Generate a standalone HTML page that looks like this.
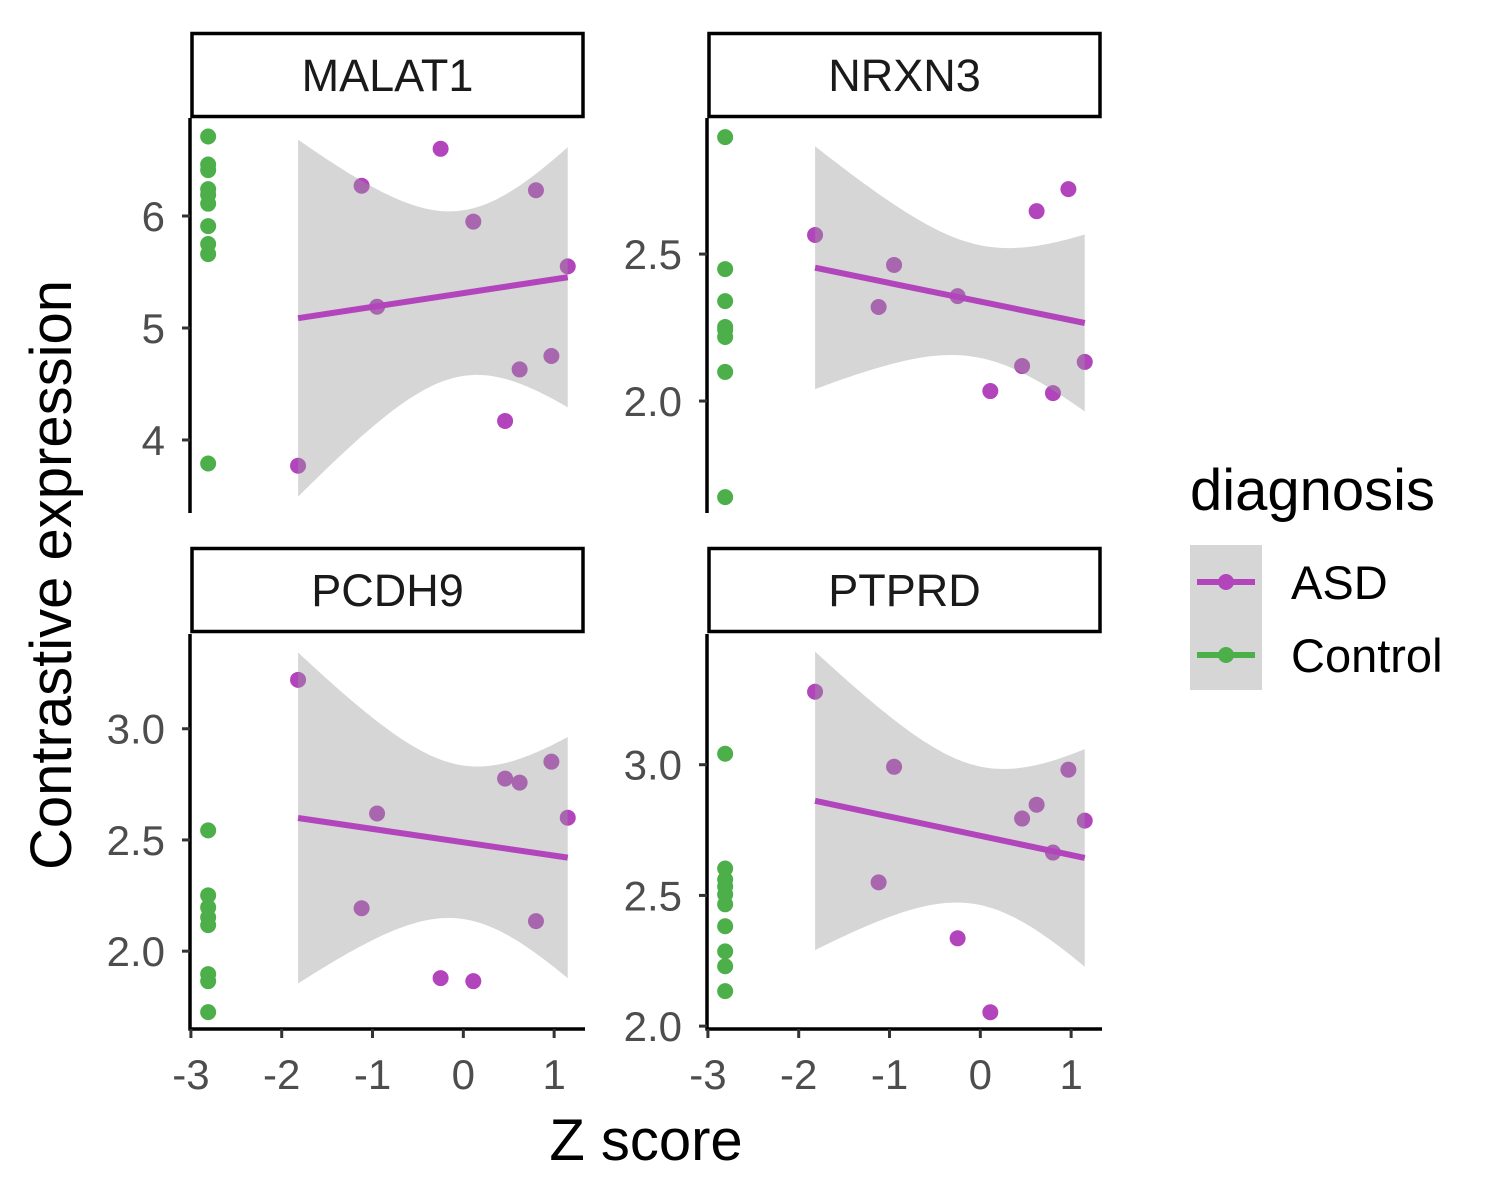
<!DOCTYPE html>
<html><head><meta charset="utf-8"><style>
html,body{margin:0;padding:0;background:#fff}
svg{display:block;font-family:"Liberation Sans",Arial,sans-serif}
</style></head><body>
<svg id="c" width="1500" height="1200" viewBox="0 0 1500 1200"></svg>
<script>
const panelNames = ["MALAT1","NRXN3","PCDH9","PTPRD"];
const asdZ = [-1.82,-1.12,-0.95,-0.25,0.11,0.46,0.62,0.80,0.97,1.15];
const controlZ = -2.81;
const malatASD = [3.77,6.27,5.19,6.60,5.95,4.17,4.63,6.23,4.75,5.55];
const malatCtrl = [6.71,6.46,6.41,6.24,6.19,6.11,5.91,5.75,5.66,3.79];
const nrxnASD = [2.565,2.32,2.463,2.357,2.034,2.119,2.646,2.027,2.721,2.133];
const nrxnCtrl = [2.898,2.449,2.34,2.252,2.242,2.218,2.099,1.673];
const pcdhASD = [3.22,2.193,2.619,1.879,1.865,2.776,2.758,2.135,2.852,2.60];
const pcdhCtrl = [2.543,2.251,2.197,2.152,2.117,1.897,1.865,1.726];
const ptprdASD = [3.279,2.55,2.992,2.336,2.053,2.794,2.847,2.664,2.981,2.786];
const ptprdCtrl = [3.042,2.603,2.561,2.534,2.504,2.466,2.382,2.286,2.229,2.134];
const xTicks = [-3,-2,-1,0,1];
const yTicksMalat = [4,5,6];
const yTicksNrxn = [2.0,2.5];
const yTicksPcdh = [2.0,2.5,3.0];
const yTicksPtprd = [2.0,2.5,3.0];

const NS="http://www.w3.org/2000/svg";
const svg=document.getElementById('c');
function mk(tag,attrs,parent,text){const e=document.createElementNS(NS,tag);for(const k in attrs)e.setAttribute(k,attrs[k]);if(text!==undefined)e.textContent=text;(parent||svg).appendChild(e);return e;}

const panels=[
 {name:panelNames[0],asd:malatASD,ctrl:malatCtrl,ticks:yTicksMalat,dom:[3.348,6.875],x0:190,top:118,strip:32,xaxis:false,lbl:v=>String(v)},
 {name:panelNames[1],asd:nrxnASD,ctrl:nrxnCtrl,ticks:yTicksNrxn,dom:[1.619,2.963],x0:707,top:118,strip:32,xaxis:false,lbl:v=>v.toFixed(1)},
 {name:panelNames[2],asd:pcdhASD,ctrl:pcdhCtrl,ticks:yTicksPcdh,dom:[1.650,3.426],x0:190,top:634,strip:547,xaxis:true,lbl:v=>v.toFixed(1)},
 {name:panelNames[3],asd:ptprdASD,ctrl:ptprdCtrl,ticks:yTicksPtprd,dom:[1.989,3.5],x0:707,top:634,strip:547,xaxis:true,lbl:v=>v.toFixed(1)}
];
const W=395,H=395,XMIN=-3.01,XMAX=1.34;
panels.forEach(p=>{
 const g=mk('g',{});
 
 
 const xs=v=>p.x0+(v-XMIN)/(XMAX-XMIN)*W;
 const ys=v=>p.top+H-(v-p.dom[0])/(p.dom[1]-p.dom[0])*H;
 const st=mk('rect',{x:p.x0+2,y:p.strip+1.5,width:W-4,height:83,fill:'#fff',stroke:'#000','stroke-width':3.5},g);
 
 
 const sl=mk('text',{x:p.x0+W/2,y:p.strip+59,'text-anchor':'middle','font-size':45,fill:'#1a1a1a'},g,p.name);
 
 
 p.ctrl.forEach(v=>{const c=mk('circle',{cx:xs(controlZ),cy:ys(v),r:8,fill:'#4DAF4A'},g);
  
  });
 p.asd.forEach((v,i)=>{const c=mk('circle',{cx:xs(asdZ[i]),cy:ys(v),r:8,fill:'#B245BC'},g);
  
  });
 const n=asdZ.length;const mx=asdZ.reduce((a,b)=>a+b)/n;const my=p.asd.reduce((a,b)=>a+b)/n;
 let sxx=0,sxy=0;for(let i=0;i<n;i++){sxx+=(asdZ[i]-mx)**2;sxy+=(asdZ[i]-mx)*(p.asd[i]-my);}
 const b=sxy/sxx,a=my-b*mx;let sse=0;for(let i=0;i<n;i++)sse+=(p.asd[i]-a-b*asdZ[i])**2;
 const s=Math.sqrt(sse/(n-2)),t=2.306;
 const lo=Math.min(...asdZ),hi=Math.max(...asdZ);
 const up=[],dn=[];
 for(let k=0;k<=80;k++){const x=lo+(hi-lo)*k/80;const yh=a+b*x;const se=s*Math.sqrt(1/n+(x-mx)**2/sxx);
  up.push(xs(x).toFixed(1)+','+ys(yh+t*se).toFixed(1));dn.unshift(xs(x).toFixed(1)+','+ys(yh-t*se).toFixed(1));}
 const rib=mk('polygon',{points:up.concat(dn).join(' '),fill:'#999999','fill-opacity':0.4},g);
 
 
 const ln=mk('line',{x1:xs(lo),y1:ys(a+b*lo),x2:xs(hi),y2:ys(a+b*hi),stroke:'#B245BC','stroke-width':6},g);
 
 
 mk('line',{x1:p.x0,y1:p.top,x2:p.x0,y2:p.top+H+(p.xaxis?1.5:0),stroke:'#000','stroke-width':3.5},g);
 p.ticks.forEach(v=>{mk('line',{x1:p.x0-8,y1:ys(v),x2:p.x0,y2:ys(v),stroke:'#333','stroke-width':3},g);
  const tl=mk('text',{x:p.x0-25,y:ys(v)+15,'text-anchor':'end','font-size':42,fill:'#4d4d4d'},g,p.lbl(v));
  
  });
 if(p.xaxis){
  mk('line',{x1:p.x0-1.5,y1:p.top+H,x2:p.x0+W,y2:p.top+H,stroke:'#000','stroke-width':3.5},g);
  xTicks.forEach(v=>{mk('line',{x1:xs(v),y1:p.top+H,x2:xs(v),y2:p.top+H+9,stroke:'#333','stroke-width':3},g);
   const tl=mk('text',{x:xs(v),y:p.top+H+60,'text-anchor':'middle','font-size':42,fill:'#4d4d4d'},g,String(v));
   
   });
 }
});
const yt=mk('text',{x:0,y:0,transform:'translate(71,575) rotate(-90)','text-anchor':'middle','font-size':58,fill:'#000'},svg,'Contrastive expression');


const xt=mk('text',{x:646,y:1160,'text-anchor':'middle','font-size':58,fill:'#000'},svg,'Z score');


const lg=mk('g',{});


mk('text',{x:1190,y:510,'font-size':58,fill:'#000'},lg,'diagnosis');
mk('rect',{x:1190,y:545,width:72,height:145,fill:'#d6d6d6'},lg);
[['ASD','#B245BC',582],['Control','#4DAF4A',655]].forEach(([n,c,y])=>{
 const e=mk('g',{},lg);
 
 
 mk('line',{x1:1197,y1:y,x2:1255,y2:y,stroke:c,'stroke-width':6},e);
 mk('circle',{cx:1226,cy:y,r:8,fill:c},e);
 mk('text',{x:1291,y:y+17,'font-size':47,fill:'#000'},e,n);
});
</script>
</body></html>
